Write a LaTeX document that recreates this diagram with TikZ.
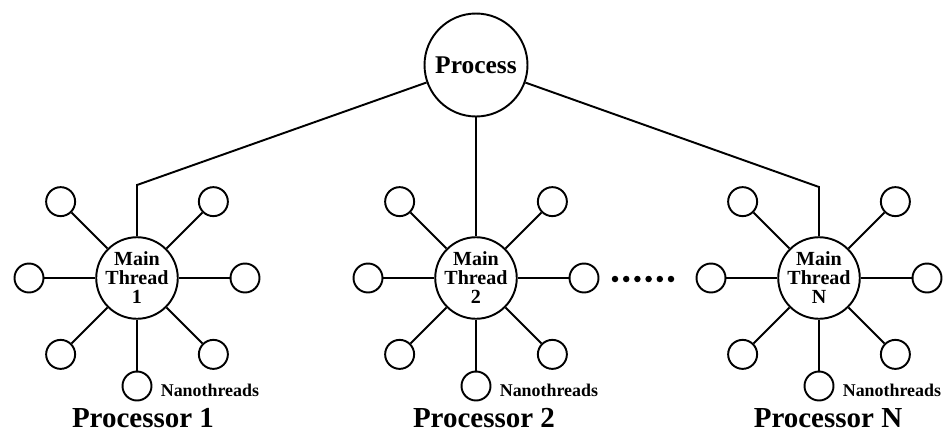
\documentclass[tikz,border=0pt]{standalone}
\usepackage{fontspec}
\setmainfont{Liberation Serif}
\usetikzlibrary{calc}

\tikzset{
	procnode/.style={draw, circle, line width=1.1pt, minimum size=2.06cm, inner sep=0pt,
		font=\fontsize{14.5}{16}\selectfont\bfseries},
	mainthread/.style={draw, circle, line width=1.1pt, minimum size=1.52cm, inner sep=0pt,
		align=center, font=\fontsize{11.4}{10.8}\selectfont\bfseries},
	nanothread/.style={draw, circle, line width=1.1pt, minimum size=0.58cm, inner sep=0pt},
	link/.style={line width=1.1pt},
	nanolabel/.style={anchor=west, inner sep=0pt, font=\fontsize{10.2}{12}\selectfont\bfseries},
	proclabel/.style={font=\fontsize{16.5}{18}\selectfont\bfseries},
}

\begin{document}
\begin{tikzpicture}[x=0.02cm, y=0.02cm]
	%%%%% START %%%%%
	\useasboundingbox (0, 0) rectangle (946, 441);
	
	\node[procnode] (p) at (476, 376) {Process};
	
	% processor 1
	\node[mainthread] (m1) at (137, 163) {Main\\Thread\\1};
	\foreach \a in {0, 45, 135, 180, 225, 270, 315}
	{
		\node[nanothread] (m1-\a) at ($(m1)+(\a:108)$) {};
		\draw[link] (m1) -- (m1-\a);
	}
	\coordinate (c1) at (137, 256);
	\draw[link] (m1) -- (c1) -- (p);
	\node[nanolabel] (n1) at ($(m1-270.east)+(8, -4)$) {Nanothreads};
	\node[proclabel] (pr1) at (143, 23) {Processor 1};
	
	% processor 2
	\node[mainthread] (m2) at (476, 163) {Main\\Thread\\2};
	\foreach \a in {0, 45, 135, 180, 225, 270, 315}
	{
		\node[nanothread] (m2-\a) at ($(m2)+(\a:108)$) {};
		\draw[link] (m2) -- (m2-\a);
	}
	\draw[link] (m2) -- (p);
	\node[nanolabel] (n2) at ($(m2-270.east)+(8, -4)$) {Nanothreads};
	\node[proclabel] (pr2) at (484, 23) {Processor 2};
	
	% the dots
	\foreach \i in {0, ..., 5}
		\fill (615 + 11.2*\i, 162) circle (0.065cm);
	
	% processor N
	\node[mainthread] (mN) at (819, 163) {Main\\Thread\\N};
	\foreach \a in {0, 45, 135, 180, 225, 270, 315}
	{
		\node[nanothread] (mN-\a) at ($(mN)+(\a:108)$) {};
		\draw[link] (mN) -- (mN-\a);
	}
	\coordinate (cN) at (819, 254);
	\draw[link] (mN) -- (cN) -- (p);
	\node[nanolabel] (nN) at ($(mN-270.east)+(8, -4)$) {Nanothreads};
	\node[proclabel] (prN) at (828, 23) {Processor N};
	
	%%%%% END %%%%%
\end{tikzpicture}
\end{document}
